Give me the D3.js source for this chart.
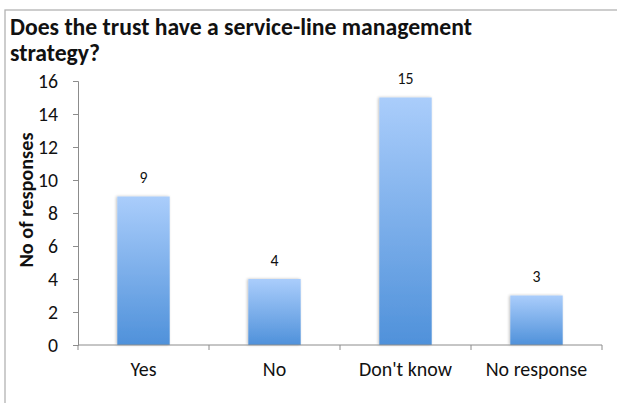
<!DOCTYPE html>
<html>
<head>
<meta charset="utf-8">
<script src="https://cdn.jsdelivr.net/npm/d3@7/dist/d3.min.js"></script>
<style>
  html, body { margin: 0; padding: 0; background: #fff; }
  svg { display: block; }
</style>
</head>
<body>
<svg id="chart" width="617" height="403"></svg>
<script>
// Survey answers and response counts
const categories = ["Yes", "No", "Don't know", "No response"];
const responses = [9, 4, 15, 3];
const yTicks = [0, 2, 4, 6, 8, 10, 12, 14, 16];
const titleLines = ["Does the trust have a service-line management", "strategy?"];
const yTitle = "No of responses";

const font = "Carlito, Lato, 'Liberation Sans', sans-serif";
const svg = d3.select("#chart");

// Scale a text element's font so its rendered width equals `width`
function fitWidth(sel, width) {
  sel.each(function () {
    const t = d3.select(this);
    const size = parseFloat(t.attr("font-size"));
    const w = this.getComputedTextLength();
    if (w > 0) t.attr("font-size", (size * width / w).toFixed(2));
  });
}

// Chart frame
svg.append("rect")
  .attr("x", 5).attr("y", 10)
  .attr("width", 640).attr("height", 420)
  .attr("fill", "#fff")
  .attr("stroke", "#b3b3b3").attr("stroke-width", 1.3);

const plot = { left: 78, right: 602, top: 81, bottom: 345 };

const x = d3.scaleBand()
  .domain(categories)
  .range([plot.left, plot.right])
  .paddingInner(0.6).paddingOuter(0.3);

const y = d3.scaleLinear()
  .domain([0, 16])
  .range([plot.bottom, plot.top]);

// Bar gradient: light at top, deeper blue at bottom
const defs = svg.append("defs");
const grad = defs.append("linearGradient")
  .attr("id", "barFill")
  .attr("x1", 0).attr("y1", 0).attr("x2", 0).attr("y2", 1);
grad.append("stop").attr("offset", "0%").attr("stop-color", "#aacdfb");
grad.append("stop").attr("offset", "100%").attr("stop-color", "#4f91da");

const shadow = defs.append("filter").attr("id", "barShadow")
  .attr("x", "-20%").attr("y", "-5%").attr("width", "140%").attr("height", "110%");
shadow.append("feGaussianBlur").attr("in", "SourceAlpha").attr("stdDeviation", 1.5).attr("result", "b");
shadow.append("feOffset").attr("in", "b").attr("dx", -1).attr("dy", 0).attr("result", "o");
shadow.append("feComponentTransfer").attr("in", "o").attr("result", "s")
  .append("feFuncA").attr("type", "linear").attr("slope", 0.25);
const merge = shadow.append("feMerge");
merge.append("feMergeNode").attr("in", "s");
merge.append("feMergeNode").attr("in", "SourceGraphic");

// Bars
svg.append("g").selectAll("rect")
  .data(categories)
  .join("rect")
  .attr("x", d => x(d))
  .attr("y", (d, i) => y(responses[i]))
  .attr("width", x.bandwidth())
  .attr("height", (d, i) => y(0) - y(responses[i]))
  .attr("fill", "url(#barFill)")
  .attr("filter", "url(#barShadow)");

// Value labels
const valueLabels = svg.append("g").selectAll("text")
  .data(categories)
  .join("text")
  .attr("x", d => x(d) + x.bandwidth() / 2)
  .attr("y", (d, i) => y(responses[i]) - 13.5)
  .attr("text-anchor", "middle")
  .attr("font-family", font)
  .attr("font-size", 15)
  .attr("fill", "#111")
  .text((d, i) => responses[i]);

// Y axis
const yAxis = svg.append("g")
  .attr("transform", `translate(${plot.left},0)`)
  .call(d3.axisLeft(y).tickValues(yTicks).tickSize(5).tickPadding(15));
yAxis.select(".domain").attr("stroke", "#8c8c8c");
yAxis.selectAll(".tick line").attr("stroke", "#8c8c8c");
yAxis.selectAll(".tick text")
  .attr("font-family", font).attr("font-size", 18).attr("fill", "#111");

// X axis with ticks between categories
const xAxis = svg.append("g")
  .attr("transform", `translate(0,${plot.bottom})`);
xAxis.append("line")
  .attr("x1", plot.left).attr("x2", plot.right)
  .attr("stroke", "#8c8c8c");
const step = x.step();
const boundaries = d3.range(categories.length + 1).map(i => plot.left + i * step);
xAxis.selectAll(".sep")
  .data(boundaries)
  .join("line")
  .attr("class", "sep")
  .attr("x1", d => d).attr("x2", d => d)
  .attr("y1", 0).attr("y2", 5)
  .attr("stroke", "#8c8c8c");
const catLabels = xAxis.selectAll(".cat")
  .data(categories)
  .join("text")
  .attr("class", "cat")
  .attr("x", d => x(d) + x.bandwidth() / 2)
  .attr("y", 31)
  .attr("text-anchor", "middle")
  .attr("font-family", font)
  .attr("font-size", 17)
  .attr("fill", "#111")
  .text(d => d);

// Y axis title
const yTitleText = svg.append("text")
  .attr("transform", "translate(33,200) rotate(-90)")
  .attr("text-anchor", "middle")
  .attr("font-family", font)
  .attr("font-size", 18)
  .attr("font-weight", "bold")
  .attr("fill", "#111")
  .text(yTitle);

// Chart title
const titleText = svg.append("g").selectAll("text")
  .data(titleLines)
  .join("text")
  .attr("x", 10)
  .attr("y", (d, i) => 35 + i * 26)
  .attr("font-family", font)
  .attr("font-size", 22)
  .attr("font-weight", "bold")
  .attr("fill", "#111")
  .text(d => d);

// Size the text to the chart's typographic widths
fitWidth(titleText.filter((d, i) => i === 0), 462);
titleText.attr("font-size", titleText.filter((d, i) => i === 0).attr("font-size"));
fitWidth(yTitleText, 135);
const tick16 = yAxis.selectAll(".tick text").filter(d => d === 16);
fitWidth(tick16, 20);
yAxis.selectAll(".tick text").attr("font-size", tick16.attr("font-size"));
const yesLabel = catLabels.filter(d => d === "Yes");
fitWidth(yesLabel, 26);
catLabels.attr("font-size", yesLabel.attr("font-size"));
const label15 = valueLabels.filter((d, i) => responses[i] === 15);
fitWidth(label15, 16);
valueLabels.attr("font-size", label15.attr("font-size"));
</script>
</body>
</html>
